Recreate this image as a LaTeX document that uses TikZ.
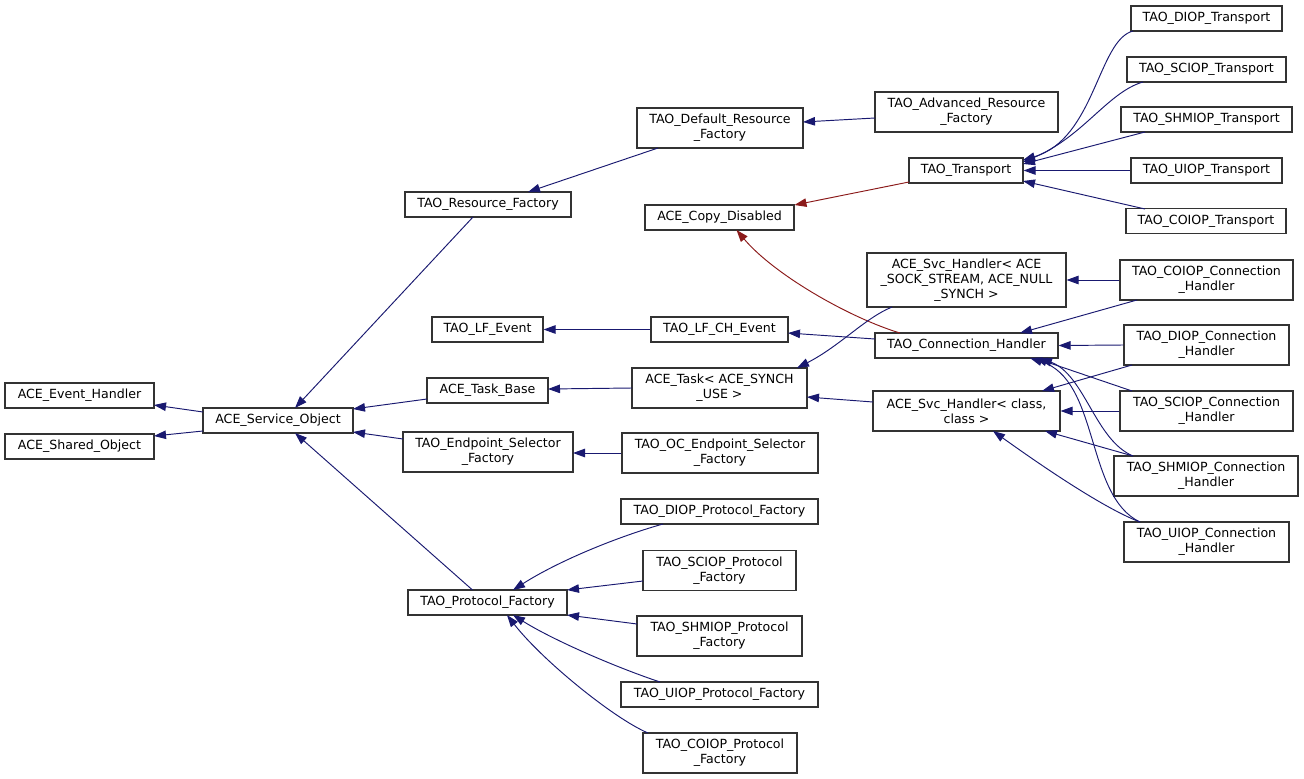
\documentclass[tikz,border=0pt]{standalone}
\usepackage{fontspec}
\setmainfont{DejaVu Sans}
\usetikzlibrary{arrows.meta,calc}
\definecolor{edgeblue}{RGB}{25,25,112}
\definecolor{edgered}{RGB}{139,26,26}
\begin{document}
\begin{tikzpicture}[x=1pt,y=-1pt,
  box/.style={draw=black!80, line width=1.1pt, fill=white, rectangle, inner sep=0pt, align=center, font=\fontsize{12.6}{15}\selectfont},
  edge/.style={draw=edgeblue, line width=0.95pt, -{Triangle[length=12pt,width=8.5pt]}},
  redge/.style={edge, draw=edgered}]
\useasboundingbox (0,0) rectangle (1304,779);
% column 1
\node[box,minimum width=149pt,minimum height=25pt] (aeh) at (79.5,395.5) {ACE\_Event\_Handler};
\node[box,minimum width=149pt,minimum height=25pt] (ashared) at (79.5,446.5) {ACE\_Shared\_Object};
\node[box,minimum width=150pt,minimum height=25pt] (aso) at (278,420.5) {ACE\_Service\_Object};
% column 2
\node[box,minimum width=166pt,minimum height=25pt] (trf) at (488,204.5) {TAO\_Resource\_Factory};
\node[box,minimum width=111pt,minimum height=25pt] (lfe) at (487.5,329.5) {TAO\_LF\_Event};
\node[box,minimum width=121pt,minimum height=25pt] (atb) at (487.5,390.5) {ACE\_Task\_Base};
\node[box,minimum width=170pt,minimum height=40pt] (tesf) at (488,452) {TAO\_Endpoint\_Selector\\\_Factory};
\node[box,minimum width=159pt,minimum height=25pt] (tpf) at (487.5,602.5) {TAO\_Protocol\_Factory};
% column 3
\node[box,minimum width=166pt,minimum height=40pt] (tdrf) at (720,128) {TAO\_Default\_Resource\\\_Factory};
\node[box,minimum width=149pt,minimum height=25pt] (acd) at (719.5,217.5) {ACE\_Copy\_Disabled};
\node[box,minimum width=137pt,minimum height=25pt] (lfch) at (719.5,329.5) {TAO\_LF\_CH\_Event};
\node[box,minimum width=175pt,minimum height=40pt] (atask) at (719.5,388) {ACE\_Task< ACE\_SYNCH\\\_USE >};
\node[box,minimum width=196pt,minimum height=40pt] (toc) at (720,453) {TAO\_OC\_Endpoint\_Selector\\\_Factory};
\node[box,minimum width=197pt,minimum height=25pt] (pdiop) at (719.5,511.5) {TAO\_DIOP\_Protocol\_Factory};
\node[box,minimum width=153pt,minimum height=40pt] (psciop) at (719.5,570.5) {TAO\_SCIOP\_Protocol\\\_Factory};
\node[box,minimum width=165pt,minimum height=40pt] (pshmiop) at (719.5,636) {TAO\_SHMIOP\_Protocol\\\_Factory};
\node[box,minimum width=197pt,minimum height=25pt] (puiop) at (719.5,694.5) {TAO\_UIOP\_Protocol\_Factory};
\node[box,minimum width=154pt,minimum height=40pt] (pcoiop) at (720,753) {TAO\_COIOP\_Protocol\\\_Factory};
% column 4
\node[box,minimum width=183pt,minimum height=40pt] (tarf) at (966.5,112) {TAO\_Advanced\_Resource\\\_Factory};
\node[box,minimum width=114pt,minimum height=25pt] (tt) at (966,170.5) {TAO\_Transport};
\node[box,minimum width=199pt,minimum height=54pt] (svs) at (966.5,280) {ACE\_Svc\_Handler< ACE\\\_SOCK\_STREAM, ACE\_NULL\\\_SYNCH >};
\node[box,minimum width=183pt,minimum height=25pt] (tch) at (966.5,345.5) {TAO\_Connection\_Handler};
\node[box,minimum width=187pt,minimum height=40pt] (svc) at (966.5,411) {ACE\_Svc\_Handler< class,\\class >};
% column 5
\node[box,minimum width=151pt,minimum height=25pt] (tdt) at (1206.5,18.5) {TAO\_DIOP\_Transport};
\node[box,minimum width=159pt,minimum height=25pt] (tst) at (1206.5,69.5) {TAO\_SCIOP\_Transport};
\node[box,minimum width=171pt,minimum height=25pt] (tsht) at (1206.5,119.5) {TAO\_SHMIOP\_Transport};
\node[box,minimum width=151pt,minimum height=25pt] (tut) at (1206.5,170.5) {TAO\_UIOP\_Transport};
\node[box,minimum width=160pt,minimum height=25pt] (tct) at (1206,221) {TAO\_COIOP\_Transport};
\node[box,minimum width=173pt,minimum height=40pt] (cch) at (1206.5,280) {TAO\_COIOP\_Connection\\\_Handler};
\node[box,minimum width=165pt,minimum height=40pt] (dch) at (1206.5,345) {TAO\_DIOP\_Connection\\\_Handler};
\node[box,minimum width=173pt,minimum height=40pt] (sch) at (1206.5,411) {TAO\_SCIOP\_Connection\\\_Handler};
\node[box,minimum width=184pt,minimum height=40pt] (shch) at (1206,476) {TAO\_SHMIOP\_Connection\\\_Handler};
\node[box,minimum width=165pt,minimum height=40pt] (uch) at (1206.5,542) {TAO\_UIOP\_Connection\\\_Handler};
% edges
\draw[edge] ($(aso.center)+(-75,-8.5)$) -- ($(aeh.center)+(74.5,9.5)$);
\draw[edge] ($(aso.center)+(-75,10.5)$) -- ($(ashared.center)+(74.5,-10.5)$);
\draw[edge] ($(trf.center)+(-15,12.5)$) -- ($(aso.center)+(17,-12.5)$);
\draw[edge] ($(atb.center)+(-60.5,8.5)$) -- ($(aso.center)+(75,-11.5)$);
\draw[edge] ($(tesf.center)+(-85,-13)$) -- ($(aso.center)+(75,11.5)$);
\draw[edge] ($(tpf.center)+(-15,-12.5)$) -- ($(aso.center)+(17,12.5)$);
\draw[edge] ($(tdrf.center)+(-62,20)$) -- ($(trf.center)+(40,-12.5)$);
\draw[edge] ($(tarf.center)+(-91.5,6)$) -- ($(tdrf.center)+(83,-6)$);
\draw[redge] ($(tt.center)+(-57,11.5)$) -- ($(acd.center)+(75,-12.5)$);
\draw[redge] ($(tch.center)+(-66.5,-12.5)$) .. controls +(-50,-15) and +(38,45) .. ($(acd.center)+(17,12.5)$);
\draw[edge] (lfch.west) -- (lfe.east);
\draw[edge] ($(tch.center)+(-91.5,-6.5)$) -- ($(lfch.center)+(68.5,3.5)$);
\draw[edge] ($(atask.center)+(-87.5,0)$) -- ($(atb.center)+(60.5,-1.5)$);
\draw[edge] ($(svs.center)+(-74.5,27)$) .. controls +(-27,11) and +(43,-22) .. ($(atask.center)+(77.5,-20)$);
\draw[edge] ($(svc.center)+(-93.5,-9)$) -- ($(atask.center)+(87.5,9)$);
\draw[edge] (toc.west) -- ($(tesf.center)+(85,1)$);
\draw[edge] ($(pdiop.center)+(-56.5,12.5)$) .. controls +(-43,12) and +(47,-30) .. ($(tpf.center)+(25.5,-12.5)$);
\draw[edge] ($(psciop.center)+(-76.5,10.5)$) -- ($(tpf.center)+(79.5,-12.5)$);
\draw[edge] ($(pshmiop.center)+(-82.5,-12)$) -- ($(tpf.center)+(79.5,12.5)$);
\draw[edge] ($(puiop.center)+(-59.5,-12.5)$) .. controls +(-45,-15) and +(40,25) .. ($(tpf.center)+(25.5,12.5)$);
\draw[edge] ($(pcoiop.center)+(-72,-20)$) .. controls +(-35,-15) and +(35,45) .. ($(tpf.center)+(19.5,12.5)$);
\draw[edge] ($(tdt.center)+(-73.5,12.5)$) .. controls +(-35,9) and +(72,-21) .. ($(tt.center)+(57,-10.5)$);
\draw[edge] ($(tst.center)+(-63.5,12.5)$) .. controls +(-35,10) and +(60,-25) .. ($(tt.center)+(57,-8.5)$);
\draw[edge] ($(tsht.center)+(-61.5,12.5)$) -- ($(tt.center)+(57,-6.5)$);
\draw[edge] (tut.west) -- (tt.east);
\draw[edge] ($(tct.center)+(-61,-12)$) -- ($(tt.center)+(57,10.5)$);
\draw[edge] (cch.west) -- (svs.east);
\draw[edge] ($(cch.center)+(-69.5,20)$) -- ($(tch.center)+(53.5,-12.5)$);
\draw[edge] (dch.west) -- (tch.east);
\draw[edge] ($(dch.center)+(-74.5,20)$) -- ($(svc.center)+(75.5,-20)$);
\draw[edge] ($(sch.center)+(-74.5,-20)$) -- ($(tch.center)+(68.5,12.5)$);
\draw[edge] (sch.west) -- (svc.east);
\draw[edge] ($(shch.center)+(-73,-20)$) .. controls +(-38,-16) and +(45,17) .. ($(tch.center)+(73.5,12.5)$);
\draw[edge] ($(shch.center)+(-73,-20)$) -- ($(svc.center)+(78.5,20)$);
\draw[edge] ($(uch.center)+(-66.5,-20)$) .. controls +(-55,-26) and +(70,22) .. ($(tch.center)+(63.5,12.5)$);
\draw[edge] ($(uch.center)+(-66.5,-20)$) .. controls +(-40,-15) and +(35,25) .. ($(svc.center)+(26.5,20)$);
\end{tikzpicture}
\end{document}
